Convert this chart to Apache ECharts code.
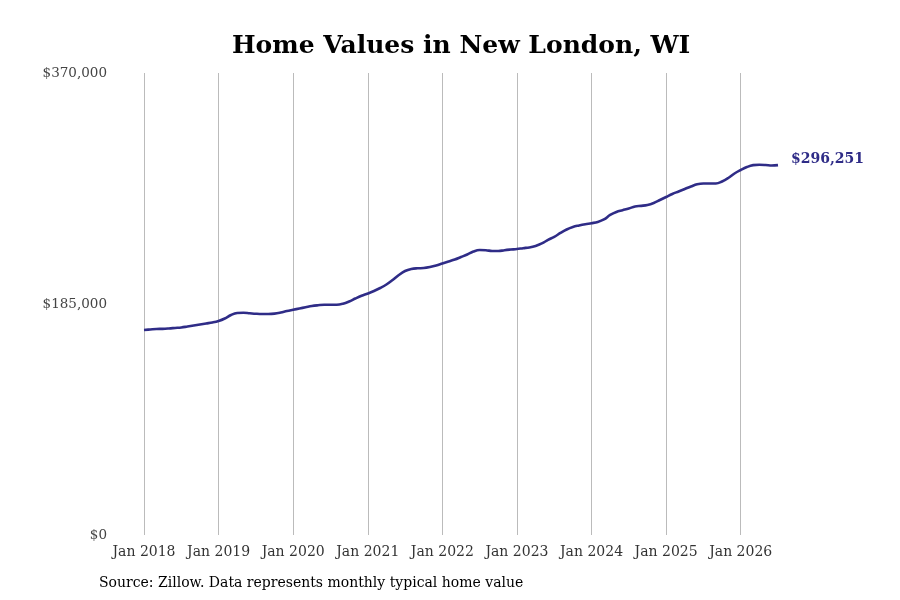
<!DOCTYPE html>
<html>
<head>
<meta charset="utf-8">
<script src="https://cdn.jsdelivr.net/npm/echarts@6/dist/echarts.min.js"></script>
<style>
  html, body { margin: 0; padding: 0; background: #fff; }
  #chart { width: 900px; height: 600px; }
</style>
</head>
<body>
<div id="chart"></div>
<script>
// Monthly typical home value, Jan 2018 .. Jul 2026
const years = [2018, 2019, 2020, 2021, 2022, 2023, 2024, 2025, 2026]
const monthNames = ['Jan', 'Feb', 'Mar', 'Apr', 'May', 'Jun', 'Jul', 'Aug', 'Sep', 'Oct', 'Nov', 'Dec']

const values2018 = [164200, 164600, 165000, 165100, 165400, 165800, 166200, 167000, 167800, 168600, 169400, 170200]
const values2019 = [171400, 173400, 176200, 177800, 178000, 177600, 177200, 177000, 177000, 177300, 178200, 179400]
const values2020 = [180400, 181400, 182400, 183400, 184000, 184400, 184400, 184400, 185200, 187000, 189400, 191600]
const values2021 = [193400, 195400, 197800, 200600, 204200, 208200, 211400, 213000, 213600, 213800, 214600, 215800]
const values2022 = [217400, 219000, 220600, 222600, 224600, 227000, 228200, 228100, 227400, 227400, 228100, 228600]
const values2023 = [229000, 229700, 230300, 231500, 233500, 236300, 238800, 241900, 244700, 246700, 247900, 248900]
const values2024 = [249700, 250700, 252700, 256300, 258700, 260100, 261500, 263100, 263600, 264300, 265900, 268300]
const values2025 = [270700, 273100, 275100, 277100, 279100, 280900, 281500, 281500, 281500, 283100, 285900, 289500]
const values2026 = [292300, 294700, 296200, 296500, 296300, 295900, 296251]

const yTicks = [0, 185000, 370000]

const values = [].concat(values2018, values2019, values2020, values2021, values2022,
  values2023, values2024, values2025, values2026)

const months = []
years.forEach(y => monthNames.forEach(m => months.push(m + ' ' + y)))
months.length = values.length

const fmt = v => '$' + Math.round(v).toLocaleString('en-US')
const serif = '"DejaVu Serif", serif'

const chart = echarts.init(document.getElementById('chart'))

chart.setOption({
  animation: false,
  title: {
    text: 'Home Values in New London, WI',
    left: 227,
    top: 29,
    textStyle: { fontFamily: serif, fontSize: 25, fontWeight: 'bold', color: '#000' },
  },
  graphic: [
    {
      type: 'text',
      left: 99,
      top: 576,
      style: {
        text: 'Source: Zillow. Data represents monthly typical home value',
        font: '14px ' + serif,
        fill: '#000',
      },
    },
  ],
  grid: { left: 144, right: 122, top: 73, bottom: 65, containLabel: false },
  xAxis: {
    type: 'category',
    boundaryGap: false,
    data: months,
    axisLine: { show: false },
    axisTick: { show: false },
    axisLabel: {
      interval: 11,
      margin: 10,
      fontFamily: serif,
      fontSize: 14,
      color: '#333',
    },
    splitLine: {
      show: true,
      interval: 11,
      lineStyle: { color: '#bbb', width: 1 },
    },
  },
  yAxis: {
    type: 'value',
    min: yTicks[0],
    max: yTicks[yTicks.length - 1],
    interval: yTicks[1] - yTicks[0],
    axisLine: { show: false },
    axisTick: { show: false },
    splitLine: { show: false },
    axisLabel: {
      margin: 37,
      fontFamily: serif,
      fontSize: 13.5,
      color: '#444',
      formatter: fmt,
    },
  },
  series: [
    {
      type: 'line',
      data: values,
      smooth: 0.4,
      symbol: 'none',
      lineStyle: { color: '#2f2c87', width: 2.6 },
      endLabel: {
        show: true,
        distance: 13,
        formatter: p => fmt(p.value),
        fontFamily: serif,
        fontSize: 14,
        fontWeight: 'bold',
        color: '#2f2c87',
        offset: [0, -6],
      },
    },
  ],
})
</script>
</body>
</html>
